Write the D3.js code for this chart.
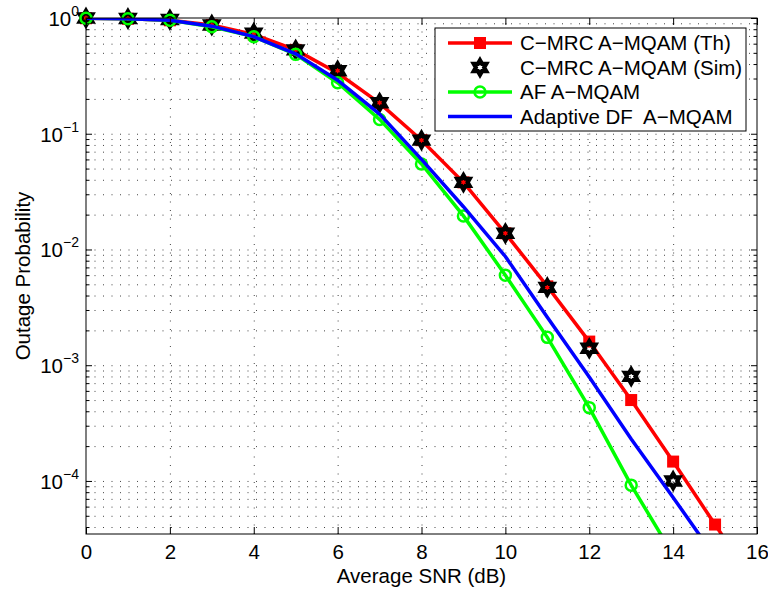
<!DOCTYPE html>
<html>
<head>
<meta charset="utf-8">
<script src="https://cdn.jsdelivr.net/npm/d3@7"></script>
<style>
body { margin: 0; background: #fff; }
text { font-family: "Liberation Sans", Arial, sans-serif; fill: #000; white-space: pre; }
</style>
</head>
<body>
<script>
//chart data
var snr = [0, 1, 2, 3, 4, 5, 6, 7, 8, 9, 10, 11, 12, 13, 14, 15, 16];
var snrSim = [0, 1, 2, 3, 4, 5, 6, 7, 8, 9, 10, 11, 12, 13, 14];
var cmrcTh = [0.995, 0.985, 0.955, 0.87, 0.72, 0.53, 0.335, 0.184, 0.088, 0.038, 0.0138, 0.0048, 0.0016, 5.0e-4, 1.47e-4, 4.2e-5, 1.2e-5];
var cmrcSim = [1.0, 0.99, 0.97, 0.87, 0.74, 0.53, 0.35, 0.185, 0.088, 0.038, 0.0138, 0.0047, 0.0014, 8.0e-4, 1.0e-4];
var afMqam = [0.997, 0.985, 0.955, 0.84, 0.69, 0.485, 0.276, 0.133, 0.0548, 0.0195, 0.006, 0.00174, 4.3e-4, 9.2e-5, 2.3e-5, 5.5e-6, 1.3e-6];
var adfMqam = [0.997, 0.985, 0.955, 0.85, 0.69, 0.49, 0.29, 0.148, 0.060, 0.0234, 0.0087, 0.0026, 7.9e-4, 2.3e-4, 7.2e-5, 2.2e-5, 7e-6];
var legendLabels = ["C\u2212MRC A\u2212MQAM (Th)", "C\u2212MRC A\u2212MQAM (Sim)", "AF A\u2212MQAM", "Adaptive DF  A\u2212MQAM"];
var xTicks = [0, 2, 4, 6, 8, 10, 12, 14, 16];
var yExps = [0, -1, -2, -3, -4];

(function(){
	//SVG dimension variables
	var w = 768, h = 592;
	var pL = 86, pR = 757, pT = 18, pB = 534;
	var yMin = 3.48e-5;

	var svg = d3.select("body").append("svg")
		.attr("width", w)
		.attr("height", h);

	var x = d3.scaleLinear().domain([0, 16]).range([pL, pR]);
	var y = d3.scaleLog().domain([yMin, 1]).range([pB, pT]);

	//minor tick values 2..9 x 10^k inside the domain
	var yMinor = [];
	yExps.concat([-5]).forEach(function(e){
		for (var k = 2; k <= 9; k++) {
			var v = k * Math.pow(10, e);
			if (v >= yMin && v < 1) yMinor.push(v);
		}
	});
	var yMajor = yExps.map(function(e){ return Math.pow(10, e); });

	//dotted grid
	function dotted(g){
		g.select(".domain").remove();
		g.selectAll(".tick line")
			.attr("stroke", "#444")
			.attr("stroke-width", 1)
			.attr("stroke-dasharray", "1,7.5");
	}
	svg.append("g")
		.attr("transform", "translate(0," + pB + ")")
		.call(d3.axisBottom(x).tickValues(xTicks.slice(1, -1)).tickSize(-(pB - pT)).tickFormat(""))
		.call(dotted);
	svg.append("g")
		.attr("transform", "translate(" + pL + ",0)")
		.call(d3.axisLeft(y).tickValues(yMajor.slice(1).concat(yMinor)).tickSize(-(pR - pL)).tickFormat(""))
		.call(dotted);

	//clip for the lines
	svg.append("clipPath").attr("id", "plotClip")
		.append("rect")
		.attr("x", pL).attr("y", pT)
		.attr("width", pR - pL).attr("height", pB - pT);

	var line = d3.line()
		.x(function(d){ return x(d[0]); })
		.y(function(d){ return y(d[1]); });

	function pairs(xs, ys){
		return xs.map(function(v, i){ return [v, ys[i]]; });
	}
	function inside(d){ return d[1] >= yMin && d[1] <= 1.0001; }

	//six-pointed star marker
	var hexPath = (function(){
		var R = 7.2, r = R / Math.sqrt(3), pts = [];
		for (var i = 0; i < 12; i++) {
			var a = -Math.PI / 2 + i * Math.PI / 6;
			var rr = i % 2 ? r : R;
			pts.push([rr * Math.cos(a), rr * Math.sin(a)]);
		}
		return "M" + pts.join("L") + "Z";
	})();

	function drawSquares(g, data){
		g.selectAll(null).data(data).enter().append("rect")
			.attr("x", function(d){ return x(d[0]) - 5; })
			.attr("y", function(d){ return y(d[1]) - 5; })
			.attr("width", 10).attr("height", 10)
			.attr("fill", "#ff0000").attr("stroke", "#ff0000").attr("stroke-width", 2);
	}
	function drawStars(g, data){
		g.selectAll(null).data(data).enter().append("path")
			.attr("d", hexPath)
			.attr("transform", function(d){ return "translate(" + x(d[0]) + "," + y(d[1]) + ")"; })
			.attr("fill", "none").attr("stroke", "#000").attr("stroke-width", 4.2);
	}
	function drawCircles(g, data){
		g.selectAll(null).data(data).enter().append("circle")
			.attr("cx", function(d){ return x(d[0]); })
			.attr("cy", function(d){ return y(d[1]); })
			.attr("r", 5.5)
			.attr("fill", "none").attr("stroke", "#00ff00").attr("stroke-width", 2.5);
	}

	var thData = pairs(snr, cmrcTh);
	var simData = pairs(snrSim, cmrcSim);
	var afData = pairs(snr, afMqam);
	var dfData = pairs(snr, adfMqam);

	//C-MRC theory
	svg.append("path").datum(thData)
		.attr("clip-path", "url(#plotClip)")
		.attr("d", line).attr("fill", "none")
		.attr("stroke", "#ff0000").attr("stroke-width", 3.5);
	drawSquares(svg.append("g"), thData.filter(inside));

	//C-MRC simulation
	drawStars(svg.append("g"), simData.filter(inside));

	//AF
	svg.append("path").datum(afData)
		.attr("clip-path", "url(#plotClip)")
		.attr("d", line).attr("fill", "none")
		.attr("stroke", "#00ff00").attr("stroke-width", 3.5);
	drawCircles(svg.append("g"), afData.filter(inside));

	//Adaptive DF
	svg.append("path").datum(dfData)
		.attr("clip-path", "url(#plotClip)")
		.attr("d", line).attr("fill", "none")
		.attr("stroke", "#0000ff").attr("stroke-width", 3.5);

	//axes box and inward ticks
	function solid(g){
		g.select(".domain").remove();
		g.selectAll(".tick line").attr("stroke", "#000").attr("stroke-width", 1);
	}
	var xAxis = svg.append("g")
		.attr("transform", "translate(0," + pB + ")")
		.call(d3.axisBottom(x).tickValues(xTicks).tickSizeInner(-7).tickSizeOuter(0))
		.call(solid);
	xAxis.selectAll(".tick text")
		.attr("y", 25).attr("dy", 0)
		.style("font-family", "\"Liberation Sans\", Arial, sans-serif")
		.style("font-size", "20.5px");
	svg.append("g")
		.attr("transform", "translate(0," + pT + ")")
		.call(d3.axisTop(x).tickValues(xTicks).tickSizeInner(-7).tickSizeOuter(0).tickFormat(""))
		.call(solid);

	svg.append("g")
		.attr("transform", "translate(" + pL + ",0)")
		.call(d3.axisLeft(y).tickValues(yMajor).tickSizeInner(-6).tickSizeOuter(0).tickFormat(""))
		.call(solid);
	svg.append("g")
		.attr("transform", "translate(" + pL + ",0)")
		.call(d3.axisLeft(y).tickValues(yMinor).tickSizeInner(-3.5).tickSizeOuter(0).tickFormat(""))
		.call(solid);
	svg.append("g")
		.attr("transform", "translate(" + pR + ",0)")
		.call(d3.axisRight(y).tickValues(yMajor).tickSizeInner(-6).tickSizeOuter(0).tickFormat(""))
		.call(solid);
	svg.append("g")
		.attr("transform", "translate(" + pR + ",0)")
		.call(d3.axisRight(y).tickValues(yMinor).tickSizeInner(-3.5).tickSizeOuter(0).tickFormat(""))
		.call(solid);

	svg.append("rect")
		.attr("x", pL).attr("y", pT)
		.attr("width", pR - pL).attr("height", pB - pT)
		.attr("fill", "none").attr("stroke", "#000").attr("stroke-width", 1);

	//10^k labels
	var yLab = svg.selectAll(".ylab").data(yExps).enter().append("text")
		.attr("class", "ylab")
		.attr("text-anchor", "end")
		.attr("x", 79)
		.attr("y", function(d){ return y(Math.pow(10, d)) + 8; });
	yLab.append("tspan").style("font-size", "20.5px").text("10");
	yLab.append("tspan").style("font-size", "14px").attr("dy", -10)
		.text(function(d){ return d === 0 ? "0" : "\u2212" + (-d); });

	//axis titles
	svg.append("text")
		.attr("text-anchor", "middle")
		.attr("x", (pL + pR) / 2).attr("y", 583)
		.style("font-size", "20.5px")
		.text("Average SNR (dB)");
	svg.append("text")
		.attr("text-anchor", "middle")
		.attr("transform", "translate(30," + (pT + pB) / 2 + ") rotate(-90)")
		.style("font-size", "20.5px")
		.text("Outage Probability");

	//legend
	var lg = svg.append("g");
	lg.append("rect")
		.attr("x", 435).attr("y", 28).attr("width", 311).attr("height", 103)
		.attr("fill", "#fff").attr("stroke", "#000").attr("stroke-width", 1);
	var rowY = [43, 67.5, 92, 116.5];
	var rowColor = ["#ff0000", null, "#00ff00", "#0000ff"];
	rowY.forEach(function(ry, i){
		if (rowColor[i]) {
			lg.append("line")
				.attr("x1", 448).attr("x2", 512).attr("y1", ry).attr("y2", ry)
				.attr("stroke", rowColor[i]).attr("stroke-width", 3.5);
		}
		lg.append("text")
			.attr("x", 520).attr("y", ry + 7)
			.style("font-size", "20.5px")
			.text(legendLabels[i]);
	});
	lg.append("rect").attr("x", 475).attr("y", rowY[0] - 5).attr("width", 10).attr("height", 10)
		.attr("fill", "#ff0000").attr("stroke", "#ff0000").attr("stroke-width", 2);
	lg.append("path").attr("d", hexPath).attr("transform", "translate(480," + rowY[1] + ")")
		.attr("fill", "none").attr("stroke", "#000").attr("stroke-width", 4.2);
	lg.append("circle").attr("cx", 480).attr("cy", rowY[2]).attr("r", 5.5)
		.attr("fill", "none").attr("stroke", "#00ff00").attr("stroke-width", 2.5);
})();
</script>
</body>
</html>
